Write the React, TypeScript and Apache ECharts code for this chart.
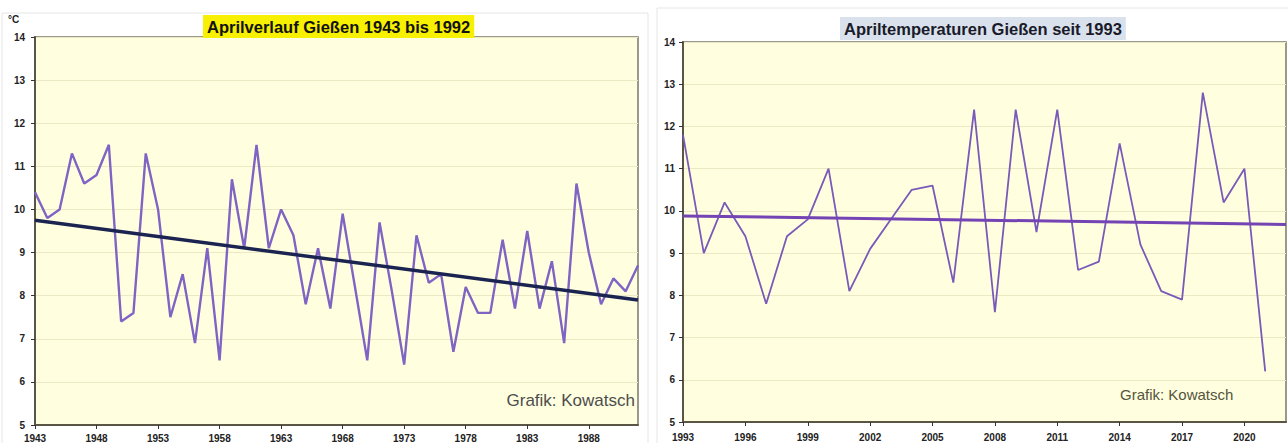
import { useEffect, useRef } from "react";
import * as echarts from "echarts";

const FONT = "'Liberation Sans', Arial, sans-serif";

const leftYears: string[] = Array.from({ length: 50 }, (_, i) => String(1943 + i));
const leftTemps: number[] = [
  10.4, 9.8, 10.0, 11.3, 10.6, 10.8, 11.5, 7.4, 7.6, 11.3,
  10.0, 7.5, 8.5, 6.9, 9.1, 6.5, 10.7, 9.1, 11.5, 9.1,
  10.0, 9.4, 7.8, 9.1, 7.7, 9.9, 8.2, 6.5, 9.7, 8.1,
  6.4, 9.4, 8.3, 8.5, 6.7, 8.2, 7.6, 7.6, 9.3, 7.7,
  9.5, 7.7, 8.8, 6.9, 10.6, 9.0, 7.8, 8.4, 8.1, 8.7,
];
const leftTrend: [number, number][] = [[0, 9.75], [49, 7.9]];

const rightYears: string[] = Array.from({ length: 30 }, (_, i) => String(1993 + i));
const rightTemps: number[] = [
  11.8, 9.0, 10.2, 9.4, 7.8, 9.4, 9.8, 11.0, 8.1, 9.1,
  9.8, 10.5, 10.6, 8.3, 12.4, 7.6, 12.4, 9.5, 12.4, 8.6,
  8.8, 11.6, 9.2, 8.1, 7.9, 12.8, 10.2, 11.0, 6.2,
];
const rightTrend: [number, number][] = [[0, 9.88], [29, 9.68]];

const leftTitle = "Aprilverlauf Gießen 1943 bis 1992";
const rightTitle = "Apriltemperaturen Gießen seit 1993";
const credit = "Grafik: Kowatsch";

export default function App() {
  const ref = useRef<HTMLDivElement>(null);
  useEffect(() => {
    if (!ref.current) return;
    const chart = echarts.init(ref.current, undefined, { renderer: "svg" });
    const axisLine = { show: true, lineStyle: { color: "#5a5545", width: 2 } };
    const yLabel = { fontSize: 10, fontWeight: "bold", color: "#222", fontFamily: FONT };
    const gridBase = {
      show: true,
      backgroundColor: "#ffffe0",
      borderColor: "#7a7868",
      borderWidth: 1.5,
      containLabel: false,
    };
    chart.setOption({
      animation: false,
      backgroundColor: "#ffffff",
      title: [
        {
          text: leftTitle,
          left: 203,
          top: 15,
          backgroundColor: "#f7f000",
          padding: [3, 4],
          textStyle: { fontSize: 16.5, fontWeight: "bold", color: "#111", fontFamily: FONT },
        },
        {
          text: rightTitle,
          left: 840,
          top: 17,
          backgroundColor: "#d9e2ec",
          padding: [3, 4],
          textStyle: { fontSize: 16.5, fontWeight: "bold", color: "#1a1a2a", fontFamily: FONT },
        },
      ],
      grid: [
        { ...gridBase, left: 35, top: 37, width: 603, height: 388 },
        { ...gridBase, left: 683, top: 42, width: 603, height: 380 },
      ],
      xAxis: [
        {
          type: "category",
          gridIndex: 0,
          data: leftYears,
          boundaryGap: false,
          axisLine,
          axisTick: { show: true, interval: 4, length: 4, lineStyle: { color: "#333" } },
          axisLabel: { interval: 4, margin: 8, ...yLabel },
          splitLine: { show: false },
        },
        {
          type: "category",
          gridIndex: 1,
          data: rightYears,
          boundaryGap: false,
          axisLine,
          axisTick: { show: true, interval: 2, length: 4, lineStyle: { color: "#333" } },
          axisLabel: { interval: 2, margin: 10, ...yLabel },
          splitLine: { show: false },
        },
      ],
      yAxis: [
        {
          type: "value",
          gridIndex: 0,
          min: 5,
          max: 14,
          interval: 1,
          axisLine,
          axisTick: { show: true, length: 4, lineStyle: { color: "#333" } },
          axisLabel: { margin: 10, ...yLabel },
          splitLine: { show: true, lineStyle: { color: "#ebe9c4", width: 1 } },
        },
        {
          type: "value",
          gridIndex: 1,
          min: 5,
          max: 14,
          interval: 1,
          axisLine,
          axisTick: { show: true, length: 4, lineStyle: { color: "#333" } },
          axisLabel: { margin: 8, ...yLabel },
          splitLine: { show: true, lineStyle: { color: "#ebe9c4", width: 1 } },
        },
      ],
      series: [
        {
          type: "line",
          xAxisIndex: 0,
          yAxisIndex: 0,
          data: leftTemps,
          symbol: "none",
          lineStyle: { color: "#8064c4", width: 2.4 },
          z: 3,
        },
        {
          type: "line",
          xAxisIndex: 0,
          yAxisIndex: 0,
          data: leftTrend,
          symbol: "none",
          lineStyle: { color: "#1b2450", width: 3.5 },
          z: 4,
        },
        {
          type: "line",
          xAxisIndex: 1,
          yAxisIndex: 1,
          data: rightTemps,
          symbol: "none",
          lineStyle: { color: "#7a5ab8", width: 1.8 },
          z: 3,
        },
        {
          type: "line",
          xAxisIndex: 1,
          yAxisIndex: 1,
          data: rightTrend,
          symbol: "none",
          lineStyle: { color: "#7443b4", width: 3 },
          z: 4,
        },
      ],
      graphic: [
        {
          type: "rect",
          z: -10,
          shape: { x: 2, y: 13, width: 646, height: 440 },
          style: { fill: "none", stroke: "#e6e6e6", lineWidth: 1 },
        },
        {
          type: "rect",
          z: -10,
          shape: { x: 657, y: 8, width: 640, height: 440 },
          style: { fill: "none", stroke: "#e6e6e6", lineWidth: 1 },
        },
        {
          type: "text",
          left: 8,
          top: 14,
          style: { text: "°C", fontSize: 10, fontWeight: "bold", fill: "#222", fontFamily: FONT },
        },
        {
          type: "text",
          x: 635,
          y: 400,
          style: {
            text: credit,
            fontSize: 17,
            fill: "#4d4d4d",
            fontFamily: FONT,
            textAlign: "right",
            textVerticalAlign: "middle",
          },
        },
        {
          type: "text",
          x: 1120,
          y: 394,
          style: {
            text: credit,
            fontSize: 15,
            fill: "#55553c",
            fontFamily: FONT,
            textAlign: "left",
            textVerticalAlign: "middle",
          },
        },
      ],
    });
    return () => chart.dispose();
  }, []);
  return (
    <div
      ref={ref}
      style={{ position: "fixed", left: 0, top: 0, width: 1288, height: 443 }}
    />
  );
}
